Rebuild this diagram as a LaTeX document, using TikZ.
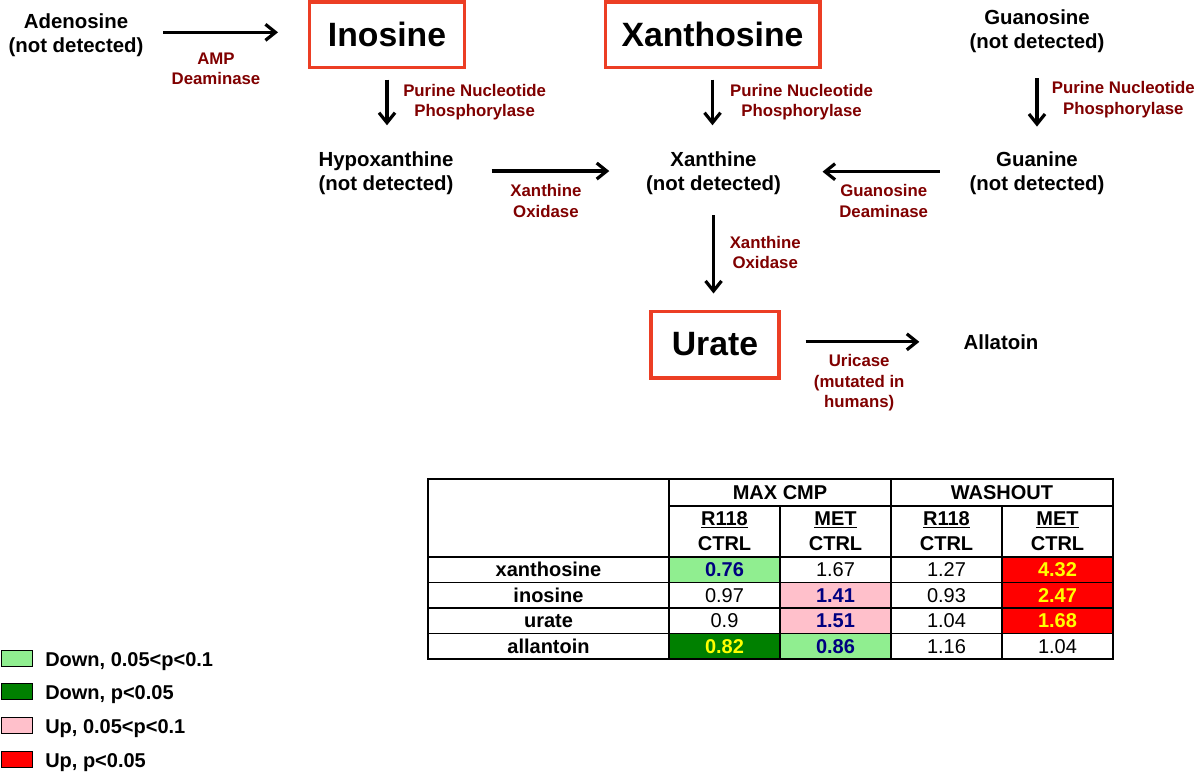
\documentclass[tikz,border=0pt]{standalone}
\usepackage{fontspec}
\setmainfont{Liberation Sans}
\usetikzlibrary{arrows.meta,positioning}
\definecolor{boxred}{RGB}{236,62,36}
\definecolor{enzred}{RGB}{128,0,0}
\definecolor{lgreen}{RGB}{144,238,144}
\definecolor{dgreen}{RGB}{0,128,0}
\definecolor{spink}{RGB}{255,192,203}
\definecolor{sred}{RGB}{255,0,0}
\definecolor{valblue}{RGB}{0,0,128}
\definecolor{valyellow}{RGB}{255,255,0}
\newcommand{\hiblue}[1]{\textbf{\color{valblue}#1}}
\newcommand{\hiyellow}[1]{\textbf{\color{valyellow}#1}}

\begin{document}
\begin{tikzpicture}[x=0.75pt, y=-0.75pt,
    metab/.style={font=\fontsize{15.3}{18}\selectfont\bfseries, align=center, inner sep=0pt},
    hit/.style={draw=boxred, line width=2.5pt, font=\fontsize{25.3}{30}\selectfont\bfseries, inner sep=0pt},
    enzyme/.style={text=enzred, font=\fontsize{12.6}{15.3}\selectfont\bfseries, align=center, inner sep=0pt},
    pathway/.style={-{Straight Barb[length=7.5pt,width=12pt]}, line width=2.4pt},
    cell/.style={font=\fontsize{15}{18}\selectfont, align=center, inner sep=0pt},
    cellb/.style={font=\fontsize{15}{18.75}\selectfont\bfseries, align=center, inner sep=0pt},
    tabline/.style={line width=1.3pt}]
    \useasboundingbox (0,0) rectangle (1200,775);

    % metabolites
    \node[metab] (adeno) at (76,35) {Adenosine\\(not detected)};
    \node[hit, minimum width=116pt, minimum height=49pt] (inosine) at (387,34.5) {Inosine};
    \node[hit, minimum width=161pt, minimum height=49pt] (xanthosine) at (712.5,34.5) {Xanthosine};
    \node[metab] (guanosine) at (1037,31.7) {Guanosine\\(not detected)};
    \node[metab] (hypox) at (386,173.7) {Hypoxanthine\\(not detected)};
    \node[metab] (xanthine) at (713.5,173.7) {Xanthine\\(not detected)};
    \node[metab] (guanine) at (1037,173.7) {Guanine\\(not detected)};
    \node[hit, minimum width=96pt, minimum height=50pt] (urate) at (715,344.5) {Urate};
    \node[metab] (allatoin) at (1001,342.5) {Allatoin};

    % reactions
    \draw[pathway, shorten <=14.6pt, shorten >=22.5pt] ([yshift=2pt]adeno.east) -- ([yshift=2pt]adeno.east -| inosine.west)
        node[enzyme, pos=0.44, below=14pt] {AMP\\Deaminase};
    \draw[pathway, shorten <=8pt, shorten >=20pt] (inosine.south) -- (inosine.south |- hypox.north)
        node[enzyme, pos=0.4, right=11pt] {Purine Nucleotide\\Phosphorylase};
    \draw[pathway, shorten <=8pt, shorten >=20pt] (xanthosine.south) -- (xanthosine.south |- xanthine.north)
        node[enzyme, pos=0.4, right=12pt] {Purine Nucleotide\\Phosphorylase};
    \draw[pathway, shorten <=18.5pt, shorten >=19pt] (guanosine.south) -- (guanosine.south |- guanine.north)
        node[enzyme, pos=0.47, right=10pt] {Purine Nucleotide\\Phosphorylase};
    \draw[pathway, shorten <=28.5pt, shorten >=27.4pt] ([yshift=2pt]hypox.east) -- ([yshift=2pt]hypox.east -| xanthine.west)
        node[enzyme, pos=0.48, below=9pt] {Xanthine\\Oxidase};
    \draw[pathway, shorten <=22pt, shorten >=31pt] ([yshift=1.5pt]guanine.west) -- ([yshift=1.5pt]guanine.west -| xanthine.east)
        node[enzyme, pos=0.455, below=8.5pt] {Guanosine\\Deaminase};
    \draw[pathway, shorten <=14.8pt, shorten >=12pt] (xanthine.south) -- (xanthine.south |- urate.north)
        node[enzyme, midway, right=11pt] {Xanthine\\Oxidase};
    \draw[pathway, shorten <=18.7pt, shorten >=33pt] ([yshift=2pt]urate.east) -- ([yshift=2pt]urate.east -| allatoin.west)
        node[enzyme, pos=0.43, below=8.4pt] {Uricase\\(mutated in\\humans)};

    % table of fold changes
    \foreach \c/\r/\col in {1/1/lgreen,4/1/sred,2/2/spink,4/2/sred,2/3/spink,4/3/sred,1/4/dgreen,2/4/lgreen}
        \fill[\col] ({669+(\c-1)*111},{557+(\r-1)*25.5}) rectangle ++(111,25.5);
    \draw[tabline] (428,479) rectangle (1113,659);
    \draw[tabline] (669,479) -- (669,659) (891,479) -- (891,659)
        (780,506) -- (780,659) (1002,506) -- (1002,659) (669,506) -- (1113,506);
    \foreach \y in {557,582.5,608,633.5}
        \draw[tabline] (428,\y) -- (1113,\y);
    \draw[line width=2.2pt] (428,659) -- (1113,659);

    \node[cellb] (maxcmp) at (780,492.5) {MAX CMP};
    \node[cellb] (washout) at (1002,492.5) {WASHOUT};
    \foreach \x/\grp in {724.5/R118,835.5/MET,946.5/R118,1057.5/MET}
        \node[cellb] at (\x,531) {\underline{\grp}\\CTRL};
    \foreach \r/\name/\va/\vb/\vc/\vd in {
        1/xanthosine/\hiblue{0.76}/1.67/1.27/\hiyellow{4.32},
        2/inosine/0.97/\hiblue{1.41}/0.93/\hiyellow{2.47},
        3/urate/0.9/\hiblue{1.51}/1.04/\hiyellow{1.68},
        4/allantoin/\hiyellow{0.82}/\hiblue{0.86}/1.16/1.04}
    {
        \pgfmathsetmacro{\yc}{557+(\r-0.5)*25.5}
        \node[cellb] (row\r) at (548.5,\yc) {\name};
        \node[cell] at (724.5,\yc) {\va};
        \node[cell] at (835.5,\yc) {\vb};
        \node[cell] at (946.5,\yc) {\vc};
        \node[cell] at (1057.5,\yc) {\vd};
    }

    % legend
    \foreach \i/\col/\y/\txt in {1/lgreen/650/{Down, 0.05<p<0.1}, 2/dgreen/683/{Down, p<0.05},
        3/spink/717/{Up, 0.05<p<0.1}, 4/sred/751/{Up, p<0.05}}
    {
        \draw[fill=\col, line width=0.6pt] (1,\y) rectangle ++(31,16);
        \node[cellb, anchor=base west] (leg\i) at (45,\y+16) {\txt};
    }
\end{tikzpicture}
\end{document}
